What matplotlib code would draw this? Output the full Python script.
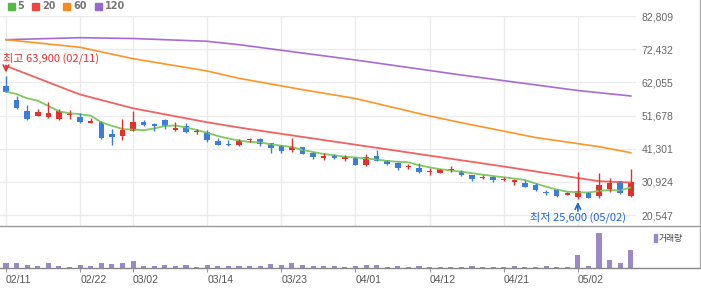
import numpy as np
import matplotlib
matplotlib.use('Agg')
import matplotlib.pyplot as plt
from matplotlib.patches import Rectangle
from matplotlib.lines import Line2D

# daily candles, 02/11 .. 05/08
opens = [61000, 56500, 53100, 51600, 51300, 50700, 51700, 51200, 49400, 49700,
         46000, 45400, 46900, 49700, 49000, 50300, 47200, 48300, 46400, 46500,
         43700, 42700, 42600, 43900, 44300, 43000, 42100, 40800, 41700, 40000,
         38400, 39400, 38100, 38700, 36300, 39000, 37800, 36800, 35500, 35300,
         33900, 33700, 34500, 34400, 33200, 32000, 32400, 31500, 30900, 30700,
         30000, 27700, 28700, 26900, 26300, 27700, 26600, 28600, 31100, 26600]
highs = [63900, 57800, 55000, 53700, 55900, 53700, 53400, 52400, 51000, 49900,
         47400, 50600, 53100, 50400, 49300, 50600, 49700, 49200, 47400, 47200,
         44600, 43900, 44300, 44700, 44600, 43000, 42500, 44700, 41800, 40200,
         40000, 39600, 39400, 38800, 39600, 40900, 37800, 37100, 36600, 36800,
         35400, 34900, 35900, 34700, 33200, 33200, 32900, 32400, 31900, 31400,
         30700, 28400, 28800, 27800, 34000, 27800, 33700, 32200, 31200, 34900]
lows = [59000, 53800, 50200, 51600, 51000, 50400, 50700, 49400, 49400, 44400,
        42400, 44100, 46800, 48500, 46900, 47500, 46900, 46300, 46000, 43300,
        42500, 42200, 42200, 43300, 42200, 40000, 40000, 40400, 39700, 38200,
        37900, 38100, 37500, 36200, 36000, 37500, 36200, 34600, 35000, 33700,
        33000, 33600, 33900, 32800, 31300, 31700, 31000, 31300, 29900, 29300,
        28200, 26700, 26300, 26700, 25600, 25900, 25800, 27700, 27000, 26100]
closes = [59100, 54100, 50500, 52800, 52500, 53000, 52200, 49700, 50000, 44700,
          45100, 47200, 49700, 48800, 48400, 48500, 47900, 46600, 46600, 44100,
          42600, 42500, 43800, 44200, 42700, 41600, 40600, 41800, 39700, 38800,
          39000, 38500, 38900, 36300, 38700, 37500, 36600, 35300, 36000, 33900,
          34400, 34900, 34800, 33200, 31900, 32400, 31600, 31900, 31400, 29300,
          28400, 27400, 26600, 27400, 28100, 26000, 29900, 30600, 27400, 30900]
# volume (thousand shares)
volumes = [530, 530, 330, 230, 530, 230, 130, 330, 230, 530,
           430, 530, 730, 230, 230, 330, 230, 330, 130, 330,
           230, 230, 230, 230, 230, 430, 330, 530, 330, 230,
           230, 230, 130, 230, 330, 330, 150, 230, 150, 230,
           150, 150, 150, 150, 230, 150, 150, 150, 230, 150,
           150, 230, 150, 150, 1330, 230, 3530, 830, 530, 1830]

ma5 = [59130, 58410, 57070, 56320, 54660, 53000, 52370, 52090, 51620, 49560,
       48460, 47460, 47240, 47090, 47620, 48400, 48560, 47930, 47150, 46270,
       45270, 44490, 43870, 43400, 43300, 42680, 42240, 41830, 40890, 40270,
       39640, 39240, 38800, 38550, 38240, 37920, 37450, 37230, 37050, 36110,
       35480, 34890, 34480, 34110, 33640, 33170, 32760, 32360, 31980, 31510,
       30410, 29410, 28540, 27850, 27670, 27600, 28070, 28380, 28230, 29200]
ma20_idx = [0, 1, 6, 7, 12, 19, 22, 24, 35, 47, 54, 56, 59]
ma20_val = [67260, 65920, 59500, 58250, 53940, 49560, 47930, 46930, 41580, 35730, 32140, 31130, 30730]
ma60_idx = [0, 7, 12, 19, 22, 28, 33, 40, 43, 50, 56, 59]
ma60_val = [75400, 73020, 69450, 65600, 63320, 59760, 57000, 51530, 49430, 44800, 41930, 40050]
ma120_idx = [0, 7, 12, 19, 22, 33, 43, 54, 59]
ma120_val = [75400, 76020, 75770, 74900, 73830, 69050, 64350, 59500, 57790]

price_ticks = [20547, 30924, 41301, 51678, 62055, 72432, 82809]
date_idx = [0, 7, 12, 19, 26, 33, 40, 47, 54]
date_labels = ['02/11', '02/22', '03/02', '03/14', '03/23', '04/01', '04/12', '04/21', '05/02']

RED = '#e3302b'
BLUE = '#3a7ddc'
W, H = 701, 289
kr = ['Noto Sans CJK KR', 'DejaVu Sans']

fig = plt.figure(figsize=(W / 100, H / 100), dpi=100)
ax = fig.add_axes([0, (H - 225.5) / H, 636 / W, (225.5 - 16) / H])
axv = fig.add_axes([0, (H - 268) / H, 636 / W, (268 - 225.5) / H])

x = np.arange(len(closes))
o, c = np.array(opens), np.array(closes)
up = c >= o
cols = np.where(up, RED, BLUE)

# price panel
ax.set_xlim(-0.567, 59.49)
ax.set_ylim(17277, 82809)
ax.set_yticks(price_ticks)
ax.set_yticklabels([f'{t:,}' for t in price_ticks], family='Liberation Sans', fontsize=7.5, color='#666666')
ax.yaxis.tick_right()
ax.set_xticks(date_idx)
ax.tick_params(length=0, labelbottom=False)
ax.tick_params(axis='y', pad=4)
ax.grid(True, color='#ebebeb', lw=1)
ax.set_axisbelow(True)
for s in ax.spines.values():
    s.set_visible(False)

ax.plot(ma120_idx, ma120_val, color='#a96bd3', lw=1.2)
ax.plot(ma60_idx, ma60_val, color='#ff9428', lw=1.2)
ax.plot(ma20_idx, ma20_val, color='#f26262', lw=1.3)
ax.plot(x, ma5, color='#7fca63', lw=1.3)

ax.vlines(x, lows, highs, colors=cols, lw=1)
body = np.maximum(np.abs(c - o), 350)
ax.bar(x, body, bottom=np.minimum(o, c), width=0.52, color=cols)

ax.text(-0.27, 69670, '최고 63,900 (02/11)', color=RED, fontsize=8, family=kr, ha='left', va='center')
ax.annotate('', xy=(0, 65140), xytext=(0, 67300),
            arrowprops=dict(arrowstyle='->', color=RED, lw=1.2, shrinkA=0, shrinkB=0))
ax.text(54, 19720, '최저 25,600 (05/02)', color='#1f66d1', fontsize=8, family=kr, ha='center', va='center')
ax.annotate('', xy=(54, 24630), xytext=(54, 21800),
            arrowprops=dict(arrowstyle='->', color='#1f66d1', lw=1.2, shrinkA=0, shrinkB=0))

# volume panel
axv.set_xlim(-0.567, 59.49)
axv.set_ylim(0, 4250)
axv.bar(x, volumes, width=0.48, color='#9b88c8')
axv.set_yticks([])
axv.set_xticks(date_idx)
axv.set_xticklabels(date_labels, family='Liberation Sans', fontsize=7.5, color='#555555')
for lab in axv.get_xticklabels():
    lab.set_horizontalalignment('left')
axv.tick_params(axis='x', length=3, color='#999999', pad=2)
for s in axv.spines.values():
    s.set_visible(False)

# panel borders
fig.add_artist(Line2D([0, 699 / W], [(H - 225.5) / H] * 2, color='#999999', lw=1))
fig.add_artist(Line2D([0, 699 / W], [(H - 268) / H] * 2, color='#888888', lw=1))
fig.add_artist(Line2D([699.5 / W] * 2, [(H - 268) / H, 1], color='#aaaaaa', lw=1))

# legend
for sx, tx, col, name in [(8, 17, '#55b947', '5'), (32, 42, '#ee4444', '20'),
                          (63, 73, '#f98a1c', '60'), (94.7, 104.5, '#9966cc', '120')]:
    fig.add_artist(Rectangle((sx / W, 1 - 9.7 / H), 7 / W, 7 / H, color=col, transform=fig.transFigure))
    fig.text(tx / W, 1 - 6.3 / H, name, fontsize=7, weight='bold', color='#777777', va='center')

fig.add_artist(Rectangle((654 / W, 1 - 242 / H), 3 / W, 8 / H, color='#9b88c8', transform=fig.transFigure))
fig.text(658.5 / W, 1 - 238 / H, '거래량', fontsize=6.3, family=kr, color='#444444', va='center')

fig.savefig('out.png', dpi=100)
